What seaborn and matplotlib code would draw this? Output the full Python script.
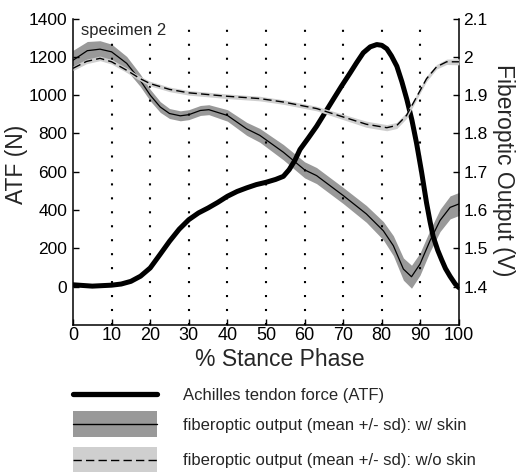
import numpy as np
import matplotlib
matplotlib.use("Agg")
import matplotlib.pyplot as plt
import seaborn as sns
from matplotlib.patches import Patch, Rectangle
from matplotlib.lines import Line2D
from matplotlib.legend_handler import HandlerBase

# Achilles tendon force (N) vs % stance
atf_x = [0, 5, 10, 12.5, 15, 17.5, 20, 22.5, 25, 27.5, 30, 32.5, 35, 37.5, 40, 42.5,
         45, 47.5, 50, 52.5, 54.5, 56, 57.5, 58.8, 61, 63.1, 65.5, 67.4, 69.5, 71.8,
         73.5, 75.2, 77, 78.7, 80, 81.3, 82.5, 83.9, 85.2, 86.5, 87.8, 89, 90.3,
         91.6, 92.5, 93.3, 94.5, 95.5, 96.5, 97.7, 99, 100]
atf_y = [10, 3, 8, 14, 28, 55, 98, 167, 237, 300, 350, 385, 411, 440, 472, 497,
         516, 533, 545, 560, 576, 611, 660, 716, 777, 837, 915, 977, 1045, 1116,
         1170, 1221, 1252, 1264, 1260, 1242, 1205, 1151, 1070, 977, 870, 750, 600,
         437, 340, 263, 190, 141, 95, 54, 15, -5]

# fiberoptic output w/ skin (V): mean and sd
skin_x = [0, 3.7, 7, 10, 13.9, 17.4, 20, 22.6, 25, 27.8, 30, 33, 35.2, 40, 45, 48.4,
          54.5, 60, 63.1, 70, 76, 80.4, 83, 85.6, 87.7, 89.9, 92.5, 95.1, 97.7, 100]
skin_mean = [1.991, 2.016, 2.020, 2.013, 1.983, 1.939, 1.900, 1.869, 1.852, 1.846,
             1.849, 1.860, 1.862, 1.847, 1.812, 1.795, 1.751, 1.705, 1.690, 1.638,
             1.590, 1.546, 1.507, 1.446, 1.426, 1.459, 1.520, 1.573, 1.607, 1.616]
skin_sd = [0.026, 0.024, 0.022, 0.020, 0.018, 0.016, 0.015, 0.014, 0.013, 0.013,
           0.013, 0.013, 0.013, 0.015, 0.017, 0.018, 0.020, 0.021, 0.021, 0.021,
           0.022, 0.024, 0.026, 0.029, 0.030, 0.029, 0.028, 0.029, 0.030, 0.030]

# fiberoptic output w/o skin (V): mean and sd
noskin_x = [0, 3.5, 7, 10, 13.9, 17.4, 20, 25, 30, 40, 48.4, 54.5, 63.1, 70, 76,
            81.3, 83.9, 86.4, 89, 91.6, 94.2, 96.8, 100]
noskin_mean = [1.970, 1.988, 1.996, 1.987, 1.965, 1.943, 1.930, 1.915, 1.906, 1.897,
               1.891, 1.882, 1.865, 1.843, 1.824, 1.815, 1.821, 1.847, 1.895, 1.943,
               1.974, 1.987, 1.987]
noskin_sd = [0.006, 0.006, 0.006, 0.006, 0.006, 0.006, 0.006, 0.006, 0.006, 0.006,
             0.006, 0.006, 0.006, 0.007, 0.008, 0.008, 0.008, 0.008, 0.007, 0.007,
             0.006, 0.007, 0.008]

grid_x = [10, 20, 30, 40, 50, 60, 70, 80, 90]
x_ticks = [0, 10, 20, 30, 40, 50, 60, 70, 80, 90, 100]
atf_ticks = [0, 200, 400, 600, 800, 1000, 1200, 1400]
volt_ticks = [1.4, 1.5, 1.6, 1.7, 1.8, 1.9, 2.0, 2.1]
volt_labels = ["1.4", "1.5", "1.6", "1.7", "1.8", "1.9", "2", "2.1"]

labels = ["Achilles tendon force (ATF)",
          "fiberoptic output (mean +/- sd): w/ skin",
          "fiberoptic output (mean +/- sd): w/o skin"]

dark = "#999999"
light = "#cfcfcf"


class BandHandler(HandlerBase):
    # grey block with the mean line through its middle
    def create_artists(self, legend, orig_handle, xdescent, ydescent, width,
                       height, fontsize, trans):
        patch, line = orig_handle
        cy = (height - ydescent) / 2
        ph = 18.7
        rect = Rectangle((-xdescent, cy - ph / 2), width, ph,
                         facecolor=patch.get_facecolor(), edgecolor="none",
                         transform=trans)
        ln = Line2D([-xdescent, -xdescent + width], [cy, cy], color="k",
                    lw=line.get_linewidth(), linestyle=line.get_linestyle(),
                    transform=trans)
        if line.get_linestyle() != "-":
            ln.set_dashes((6, 3))
        return [rect, ln]


sns.set_style("white")
plt.rcParams["font.family"] = ["Liberation Sans", "DejaVu Sans"]

fig = plt.figure(figsize=(5.16, 4.72), dpi=100)
rect = [0.1415, 0.3114, 0.748, 0.6494]
ax = fig.add_axes(rect)
ax_skin = ax.twinx()
ax_noskin = ax.twinx()

# stacking: w/ skin band under ATF, w/o skin on top
ax_skin.set_zorder(1)
ax.set_zorder(2)
ax_noskin.set_zorder(3)
ax.patch.set_visible(False)
ax_noskin.patch.set_visible(False)

for gx in grid_x:
    ax.axvline(gx, color="k", lw=1.5, ls=(0, (1, 5.7)), zorder=0)

sns.lineplot(x=atf_x, y=atf_y, ax=ax, color="k", lw=3.6, sort=False)

sm = np.array(skin_mean)
ss = np.array(skin_sd)
ax_skin.fill_between(skin_x, sm - ss, sm + ss, color=dark, lw=0)
sns.lineplot(x=skin_x, y=skin_mean, ax=ax_skin, color="k", lw=0.9, sort=False)

nm = np.array(noskin_mean)
ns = np.array(noskin_sd)
ax_noskin.fill_between(noskin_x, nm - ns, nm + ns, color=light, lw=0)
sns.lineplot(x=noskin_x, y=noskin_mean, ax=ax_noskin, color="k", lw=1.0,
             sort=False).lines[-1].set_dashes((6, 3))

ax.set_xlim(0, 100)
ax.set_ylim(-200, 1400)
for a in (ax_skin, ax_noskin):
    a.set_ylim(1.3, 2.1)

ax.set_xticks(x_ticks)
ax.set_yticks(atf_ticks)
ax.tick_params(axis="both", direction="in", length=4, width=1, colors="k")
ax.tick_params(axis="x", pad=1.5, bottom=True, labelsize=13)
ax.tick_params(axis="y", pad=4, left=True, labelsize=12.5)

ax_skin.set_yticks(volt_ticks)
ax_skin.set_yticklabels(volt_labels)
ax_skin.tick_params(axis="y", direction="in", length=4, width=1, labelsize=12.5,
                    pad=3, right=True, colors="k")

ax_noskin.set_yticks([])
ax_noskin.set_ylabel("")
for s in ax_noskin.spines.values():
    s.set_visible(False)

for a in (ax, ax_skin):
    a.spines["top"].set_visible(False)
    for s in a.spines.values():
        s.set_linewidth(1.1)
        s.set_color("k")
ax.spines["right"].set_visible(False)
ax_skin.spines["left"].set_visible(False)
ax_skin.spines["bottom"].set_visible(False)

ax.set_xlabel("% Stance Phase", fontsize=16.5)
ax.xaxis.set_label_coords(0.536, -0.075)
ax.set_ylabel("ATF (N)", fontsize=16.5)
ax.yaxis.set_label_coords(-0.117, 0.525)
ax_skin.set_ylabel("Fiberoptic Output (V)", fontsize=16.5, rotation=270,
                   va="center")
ax_skin.yaxis.set_label_coords(1.115, 0.505)

ax.text(0.02, 0.96, "specimen 2", transform=ax.transAxes, fontsize=12,
        va="center", ha="left")

# legend: ATF row on its own, then the two banded rows
h1 = Line2D([], [], color="k", lw=3.8)
h2 = (Patch(facecolor=dark), Line2D([], [], color="k", lw=1.0, ls="-"))
h3 = (Patch(facecolor=light), Line2D([], [], color="k", lw=1.0, ls="--"))
leg_kw = dict(loc="upper left", frameon=False, fontsize=12, handlelength=5.04,
              handletextpad=1.55, borderpad=0, borderaxespad=0, handleheight=0.7)
fig.legend([h1], labels[:1], bbox_to_anchor=(0.1415, 1 - 388 / 472), **leg_kw)
fig.legend([h2, h3], labels[1:], handler_map={tuple: BandHandler()},
           bbox_to_anchor=(0.1415, 1 - 418 / 472), labelspacing=1.22, **leg_kw)

fig.savefig("out.png", dpi=100)
